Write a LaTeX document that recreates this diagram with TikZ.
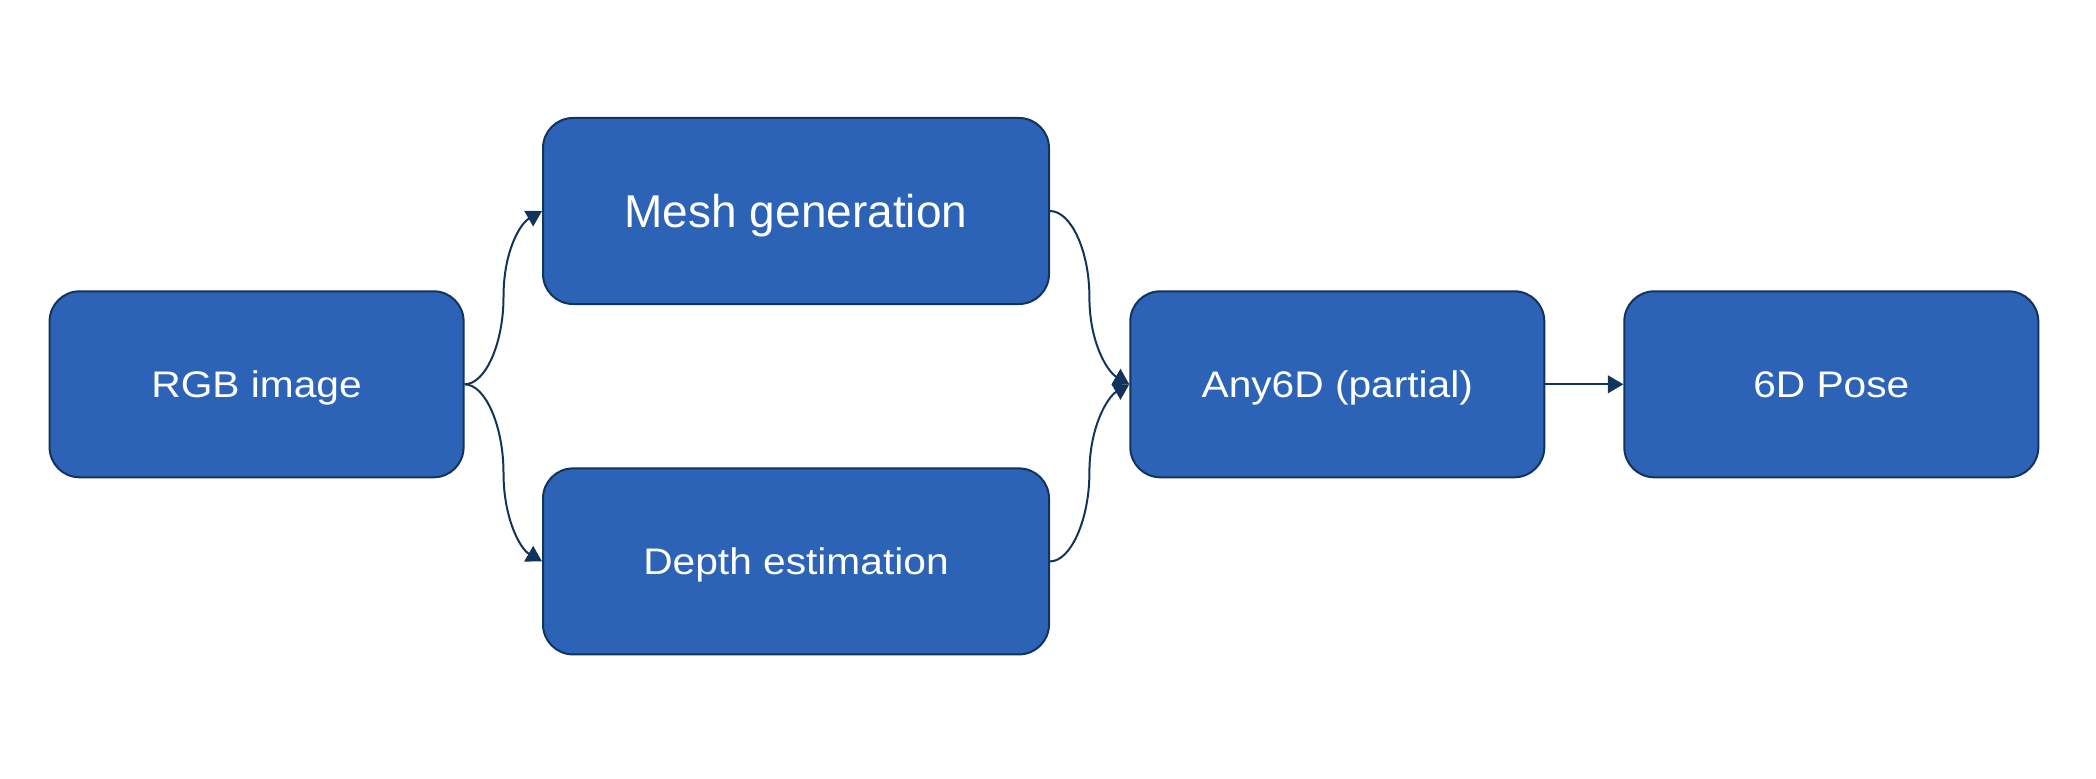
\documentclass[tikz,border=0pt]{standalone}
\usepackage{fontspec}
\setmainfont{Liberation Sans}
\newfontfamily\widefont[FakeStretch=1.1]{Liberation Sans}
\usetikzlibrary{arrows.meta}
\definecolor{boxfill}{RGB}{44,99,182}
\definecolor{navy}{RGB}{18,52,92}
\begin{document}
\begin{tikzpicture}[x=0.5pt,y=0.5pt,
 box/.style={draw=navy, line width=1pt, fill=boxfill, rounded corners=15pt, text=white,
   font=\widefont\fontsize{18.5}{22}\selectfont, inner sep=0pt, align=center,
   text height=13.25pt, text depth=0pt,
   minimum width=207pt, minimum height=93pt},
 widebox/.style={box, minimum width=253pt},
 conn/.style={draw=navy, line width=1pt, -{Triangle[length=7.7pt,width=8.8pt]}}]
\useasboundingbox (0,0) rectangle (2096,778);
\node[box] (rgb) at (256.6,393.7) {RGB image};
\node[widebox, font=\fontsize{23}{28}\selectfont, text height=16.5pt] (mesh) at (796,567) {Mesh generation};
\node[widebox] (depth) at (796,216.6) {Depth estimation};
\node[box] (any) at (1337.3,393.7) {Any6D (partial)};
\node[box] (pose) at (1831.3,393.7) {6D Pose};
\coordinate (m1) at (503.5,481);
\coordinate (m2) at (503.5,305.2);
\coordinate (m3) at (1089.4,481);
\coordinate (m4) at (1089.4,305.2);
\draw[conn] (rgb.east) .. controls +(21,0) and +(0,-46) .. (m1)
  .. controls +(0,46) and +(-21.7,-12.5) .. (mesh.west);
\draw[conn] (rgb.east) .. controls +(21,0) and +(0,46) .. (m2)
  .. controls +(0,-46) and +(-21.7,12.5) .. (depth.west);
\draw[conn] (mesh.east) .. controls +(21,0) and +(0,46) .. (m3)
  .. controls +(0,-46) and +(-21.7,12.5) .. (any.west);
\draw[conn] (depth.east) .. controls +(21,0) and +(0,-46) .. (m4)
  .. controls +(0,46) and +(-21.7,-12.5) .. (any.west);
\draw[conn] (any.east) -- (pose.west);
\end{tikzpicture}
\end{document}
